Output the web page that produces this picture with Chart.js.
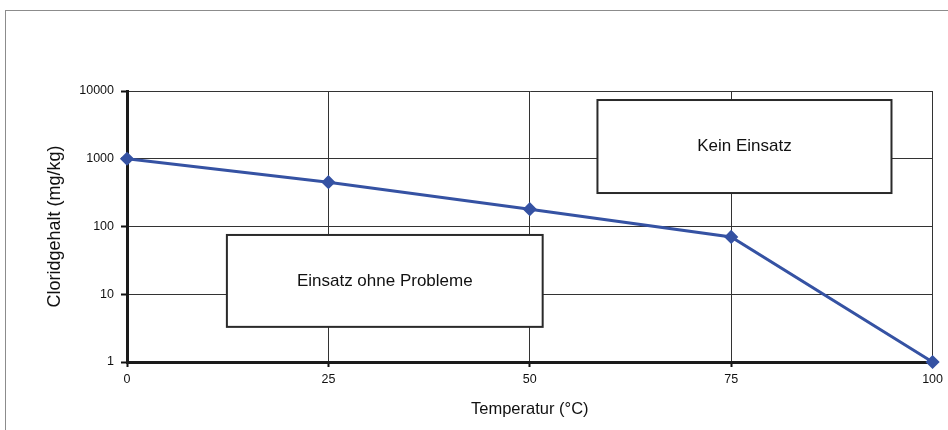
<!DOCTYPE html>
<html>
<head>
<meta charset="utf-8">
<script src="https://cdn.jsdelivr.net/npm/chart.js@4/dist/chart.umd.min.js"></script>
<style>
html,body{margin:0;padding:0;background:#fff;overflow:hidden;}
#wrap{position:relative;width:948px;height:430px;}
#frame{position:absolute;left:5px;top:10px;width:1000px;height:1000px;border-left:1px solid #8c8c8c;border-top:1px solid #8c8c8c;box-sizing:border-box;}
canvas{position:absolute;left:0;top:0;}
</style>
</head>
<body>
<div id="wrap">
<div id="frame"></div>
<canvas id="c" width="948" height="430"></canvas>
</div>
<script>
// Data
const temperatures = [0, 25, 50, 75, 100];
const chlorideValues = [1000, 450, 180, 70, 1];
const xTicks = [0, 25, 50, 75, 100];
const yTicks = [1, 10, 100, 1000, 10000];
const boxLabels = ["Kein Einsatz", "Einsatz ohne Probleme"];
const boxXMin = [58.4, 12.4];
const boxXMax = [94.9, 51.6];
const boxYMin = [312, 3.3];
const boxYMax = [7360, 75];

const FONT = "'Liberation Sans', Arial, sans-serif";

const boxPlugin = {
  id: 'boxes',
  afterDatasetsDraw(chart) {
    const ctx = chart.ctx, xs = chart.scales.x, ys = chart.scales.y;
    ctx.save();
    for (let i = 0; i < boxLabels.length; i++) {
      const x1 = xs.getPixelForValue(boxXMin[i]);
      const x2 = xs.getPixelForValue(boxXMax[i]);
      const y1 = ys.getPixelForValue(boxYMax[i]);
      const y2 = ys.getPixelForValue(boxYMin[i]);
      ctx.fillStyle = '#fff';
      ctx.fillRect(x1, y1, x2 - x1, y2 - y1);
      ctx.strokeStyle = '#2a2a2a';
      ctx.lineWidth = 2;
      ctx.strokeRect(x1, y1, x2 - x1, y2 - y1);
      ctx.fillStyle = '#111';
      ctx.font = "17px " + FONT;
      ctx.textAlign = 'center';
      ctx.textBaseline = 'middle';
      ctx.fillText(boxLabels[i], (x1 + x2) / 2, (y1 + y2) / 2);
    }
    ctx.restore();
  }
};

new Chart(document.getElementById('c'), {
  type: 'line',
  data: {
    datasets: [{
      data: temperatures.map((t, i) => ({x: t, y: chlorideValues[i]})),
      borderColor: '#3552a3',
      backgroundColor: '#3552a3',
      borderWidth: 3,
      pointStyle: 'rectRot',
      pointRadius: 5,
      pointHoverRadius: 5,
      tension: 0,
      clip: false
    }]
  },
  options: {
    responsive: false,
    animation: false,
    events: [],
    layout: {padding: {left: 36, top: 91, right: 15, bottom: 0}},
    plugins: {legend: {display: false}, tooltip: {enabled: false}},
    scales: {
      x: {
        type: 'linear', min: 0, max: 100,
        afterBuildTicks: s => { s.ticks = xTicks.map(v => ({value: v})); },
        afterFit: s => { s.height = 68; },
        grid: {color: '#333', lineWidth: 1, tickColor: '#111', tickLength: 5, tickWidth: 2},
        border: {color: '#1a1a1a', width: 3},
        ticks: {color: '#111', font: {family: FONT, size: 12.5}, padding: 5, maxRotation: 0},
        title: {display: true, text: 'Temperatur (°C)', color: '#111', font: {family: FONT, size: 16.5}, padding: {top: 4, bottom: 11}}
      },
      y: {
        type: 'logarithmic', min: 1, max: 10000,
        afterBuildTicks: s => { s.ticks = yTicks.map(v => ({value: v})); },
        afterFit: s => { s.width = 91; },
        grid: {color: '#333', lineWidth: 1, tickColor: '#111', tickLength: 6, tickWidth: 2},
        border: {color: '#1a1a1a', width: 3},
        ticks: {color: '#111', font: {family: FONT, size: 12.5}, padding: 7, callback: v => String(v)},
        title: {display: true, text: 'Cloridgehalt (mg/kg)', color: '#111', font: {family: FONT, size: 18}, padding: {top: 8, bottom: 4}}
      }
    }
  },
  plugins: [boxPlugin]
});
</script>
</body>
</html>
